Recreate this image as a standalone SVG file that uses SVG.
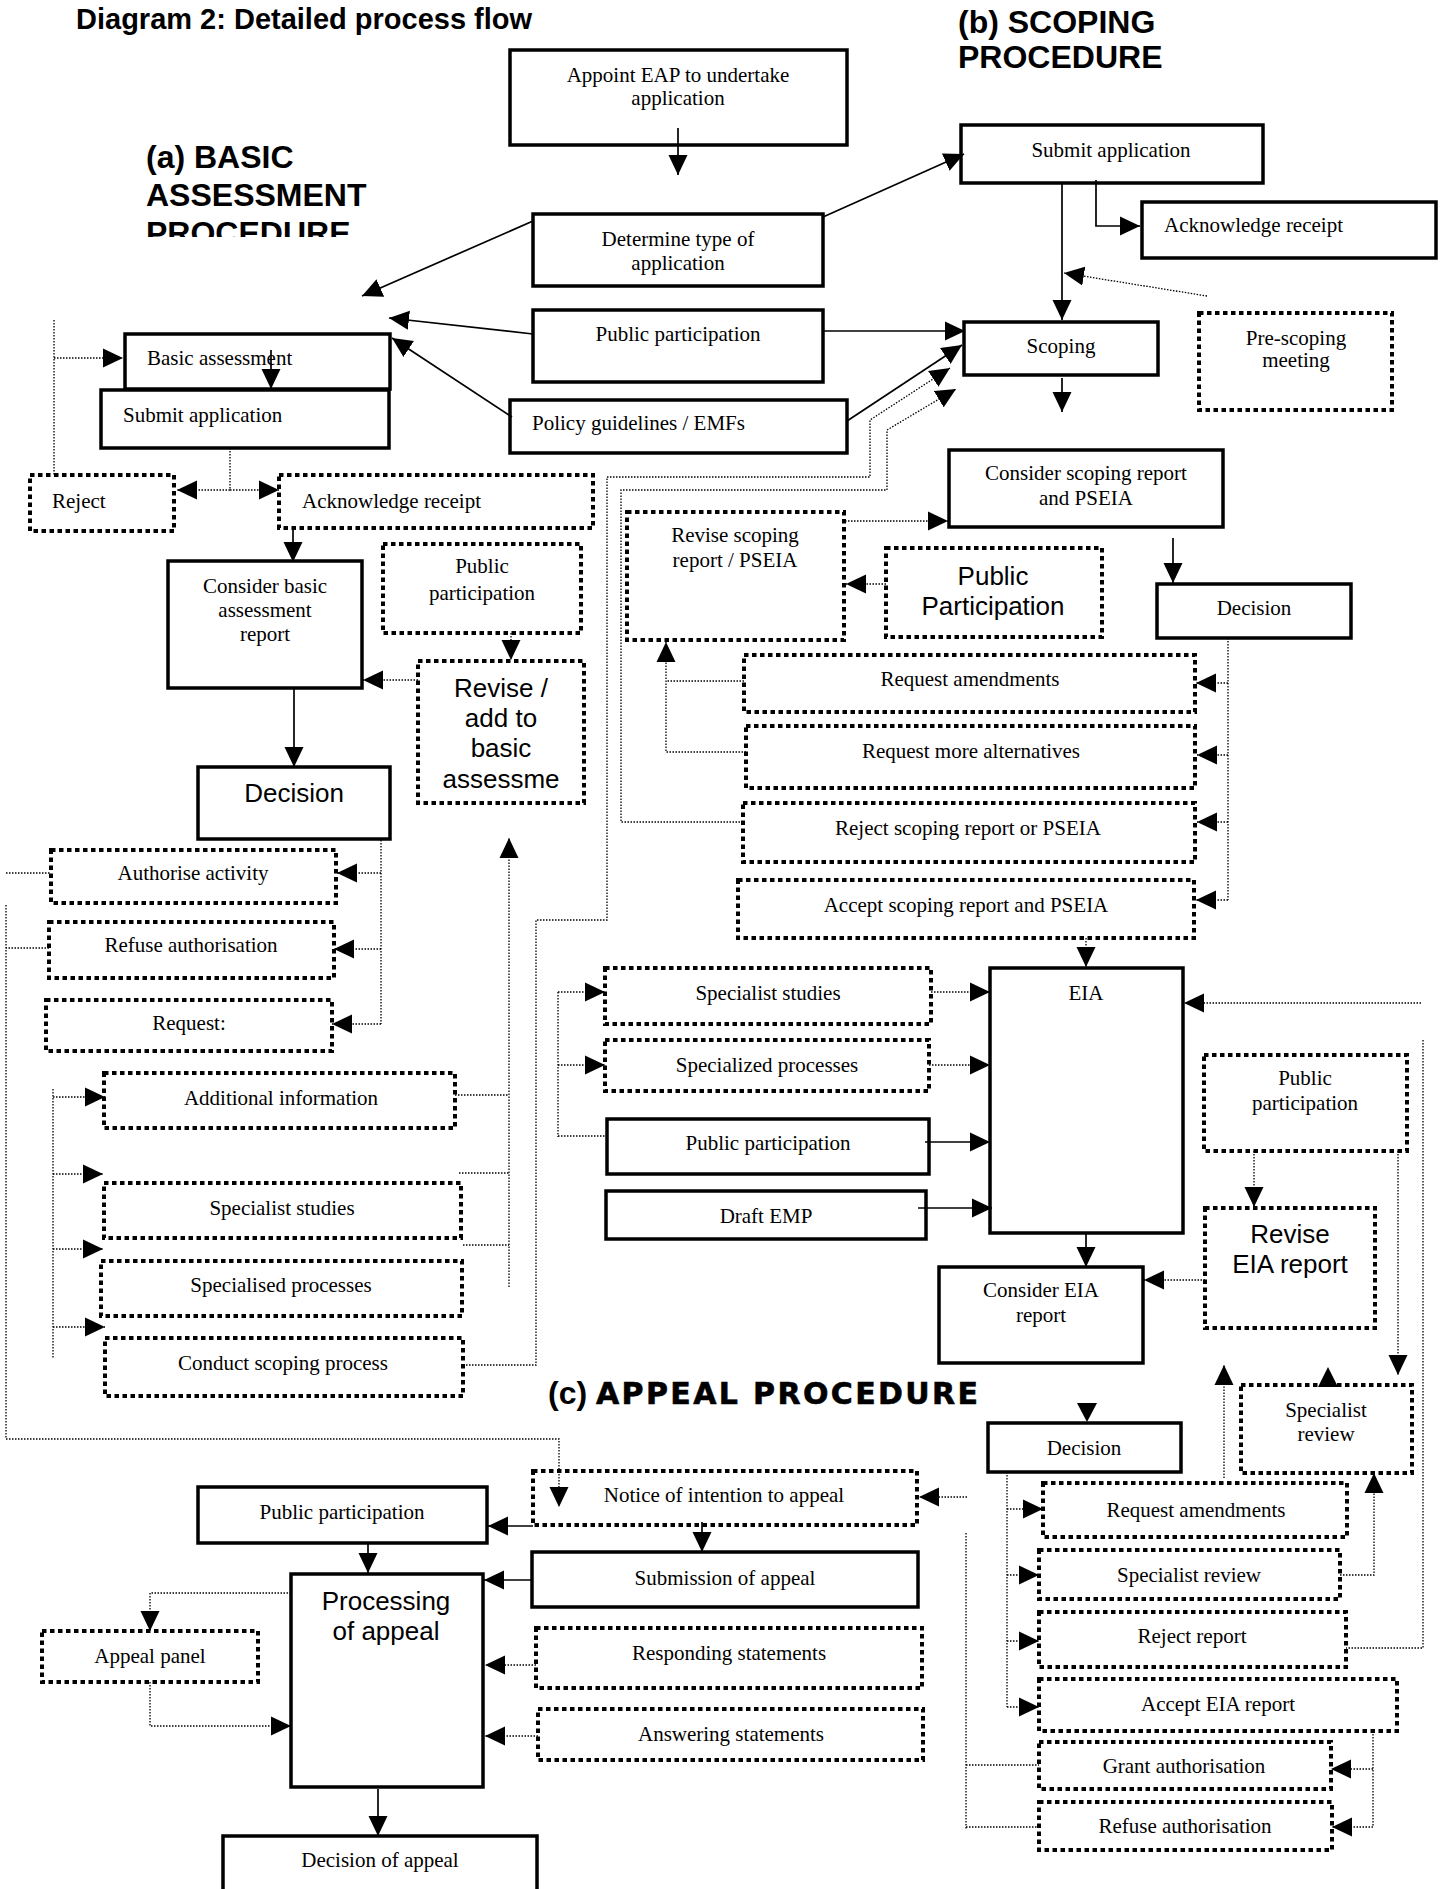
<svg xmlns="http://www.w3.org/2000/svg" width="1440" height="1889" viewBox="0 0 1440 1889">
<defs>
<style>
.sb{fill:#fff;stroke:#000;stroke-width:3.5}
.db{fill:#fff;stroke:#000;stroke-width:4;stroke-dasharray:4.5 3.5}
.t{font-family:"Liberation Serif","Times New Roman",serif;font-size:21px;fill:#000}
.c{text-anchor:middle}
.a{font-family:"Liberation Sans",Arial,sans-serif;font-size:26px;fill:#000}
.h{font-family:"Liberation Sans",Arial,sans-serif;font-weight:bold;fill:#000}
.hw{font-family:"DejaVu Sans","Liberation Sans",sans-serif;font-weight:bold;fill:#000;stroke:#000;stroke-width:0.6}
.s{fill:none;stroke:#000;stroke-width:1.7}
.d{fill:none;stroke:#000;stroke-width:1.3;stroke-dasharray:1.5 1.5}
.m{marker-end:url(#ah)}
</style>
<marker id="ah" markerUnits="userSpaceOnUse" markerWidth="20" markerHeight="20" viewBox="0 0 20 20" refX="20" refY="10" orient="auto"><path d="M0,0.5 L20,10 L0,19.5 Z" fill="#000"/></marker>
<clipPath id="clipA"><rect x="0" y="0" width="520" height="237"/></clipPath>
</defs>
<rect x="0" y="0" width="1440" height="1889" fill="#fff"/>

<g id="headings">
<text class="h" x="76" y="29" font-size="29">Diagram 2: Detailed process flow</text>
<g clip-path="url(#clipA)">
<text class="h" x="146" y="168" font-size="32">(a) BASIC</text>
<text class="h" x="146" y="206" font-size="32">ASSESSMENT</text>
<text class="h" x="146" y="244" font-size="32">PROCEDURE</text>
</g>
<text class="h" x="958" y="33" font-size="32">(b) SCOPING</text>
<text class="h" x="958" y="68" font-size="32">PROCEDURE</text>
<text class="h" x="548" y="1404" font-size="32">(c)</text>
<text class="hw" x="596" y="1404" font-size="30" textLength="382" lengthAdjust="spacing">APPEAL PROCEDURE</text>
</g>

<g id="n-appoint"><rect class="sb" x="510" y="50" width="337" height="95"/><text class="t c" x="678" y="82">Appoint EAP to undertake</text><text class="t c" x="678" y="105">application</text></g>
<g id="n-determine"><rect class="sb" x="533" y="214" width="290" height="72"/><text class="t c" x="678" y="246">Determine type of</text><text class="t c" x="678" y="270">application</text></g>
<g id="n-pp-top"><rect class="sb" x="533" y="310" width="290" height="72"/><text class="t c" x="678" y="341">Public participation</text></g>
<g id="n-policy"><rect class="sb" x="510" y="400" width="337" height="53"/><text class="t" x="532" y="430">Policy guidelines / EMFs</text></g>

<g id="n-basic"><rect class="sb" x="125" y="334" width="265" height="55"/><text class="t" x="147" y="365">Basic assessment</text></g>
<g id="n-submit-a"><rect class="sb" x="101" y="390" width="288" height="58"/><text class="t" x="123" y="422">Submit application</text></g>
<g id="n-reject-a"><rect class="db" x="30" y="475" width="144" height="56"/><text class="t" x="52" y="508">Reject</text></g>
<g id="n-ack-a"><rect class="db" x="279" y="475" width="314" height="53"/><text class="t" x="302" y="508">Acknowledge receipt</text></g>
<g id="n-consider-ba"><rect class="sb" x="168" y="561" width="194" height="127"/><text class="t c" x="265" y="593">Consider basic</text><text class="t c" x="265" y="617">assessment</text><text class="t c" x="265" y="641">report</text></g>
<g id="n-pp-a"><rect class="db" x="383" y="544" width="198" height="89"/><text class="t c" x="482" y="573">Public</text><text class="t c" x="482" y="600">participation</text></g>
<g id="n-revise-a"><rect class="db" x="418" y="661" width="166" height="142"/><text class="a c" x="501" y="697">Revise /</text><text class="a c" x="501" y="727">add to</text><text class="a c" x="501" y="757">basic</text><text class="a c" x="501" y="788">assessme</text></g>
<g id="n-decision-a"><rect class="sb" x="198" y="767" width="192" height="72"/><text class="a c" x="294" y="802">Decision</text></g>
<g id="n-authorise"><rect class="db" x="51" y="850" width="285" height="53"/><text class="t c" x="193" y="880">Authorise activity</text></g>
<g id="n-refuse-a"><rect class="db" x="49" y="922" width="285" height="56"/><text class="t c" x="191" y="952">Refuse authorisation</text></g>
<g id="n-request"><rect class="db" x="46" y="1000" width="286" height="51"/><text class="t c" x="189" y="1030">Request:</text></g>
<g id="n-addinfo"><rect class="db" x="104" y="1073" width="351" height="55"/><text class="t c" x="281" y="1105">Additional information</text></g>
<g id="n-specstud-a"><rect class="db" x="104" y="1183" width="357" height="55"/><text class="t c" x="282" y="1215">Specialist studies</text></g>
<g id="n-specproc-a"><rect class="db" x="101" y="1261" width="361" height="55"/><text class="t c" x="281" y="1292">Specialised processes</text></g>
<g id="n-conduct"><rect class="db" x="105" y="1338" width="358" height="58"/><text class="t c" x="283" y="1370">Conduct scoping process</text></g>

<g id="n-submit-b"><rect class="sb" x="961" y="125" width="302" height="58"/><text class="t c" x="1111" y="157">Submit application</text></g>
<g id="n-ack-b"><rect class="sb" x="1142" y="202" width="294" height="56"/><text class="t" x="1164" y="232">Acknowledge receipt</text></g>
<g id="n-scoping"><rect class="sb" x="964" y="322" width="194" height="53"/><text class="t c" x="1061" y="353">Scoping</text></g>
<g id="n-prescoping"><rect class="db" x="1199" y="313" width="193" height="97"/><text class="t c" x="1296" y="345">Pre-scoping</text><text class="t c" x="1296" y="367">meeting</text></g>
<g id="n-consider-sr"><rect class="sb" x="949" y="450" width="274" height="77"/><text class="t c" x="1086" y="480">Consider scoping report</text><text class="t c" x="1086" y="505">and PSEIA</text></g>
<g id="n-decision-b"><rect class="sb" x="1157" y="584" width="194" height="54"/><text class="t c" x="1254" y="615">Decision</text></g>
<g id="n-revise-sr"><rect class="db" x="627" y="512" width="217" height="128"/><text class="t c" x="735" y="542">Revise scoping</text><text class="t c" x="735" y="567">report / PSEIA</text></g>
<g id="n-pp-b"><rect class="db" x="886" y="548" width="216" height="89"/><text class="a c" x="993" y="585">Public</text><text class="a c" x="993" y="615">Participation</text></g>
<g id="n-req-amend-b"><rect class="db" x="744" y="655" width="451" height="57"/><text class="t c" x="970" y="686">Request amendments</text></g>
<g id="n-req-alt"><rect class="db" x="746" y="726" width="449" height="62"/><text class="t c" x="971" y="758">Request more alternatives</text></g>
<g id="n-reject-sr"><rect class="db" x="743" y="803" width="452" height="59"/><text class="t c" x="968" y="835">Reject scoping report or PSEIA</text></g>
<g id="n-accept-sr"><rect class="db" x="738" y="880" width="456" height="58"/><text class="t c" x="966" y="912">Accept scoping report and PSEIA</text></g>

<g id="n-eia"><rect class="sb" x="990" y="968" width="193" height="265"/><text class="t c" x="1086" y="1000">EIA</text></g>
<g id="n-specstud-b"><rect class="db" x="605" y="968" width="326" height="56"/><text class="t c" x="768" y="1000">Specialist studies</text></g>
<g id="n-specproc-b"><rect class="db" x="605" y="1040" width="324" height="51"/><text class="t c" x="767" y="1072">Specialized processes</text></g>
<g id="n-pp-eia"><rect class="sb" x="607" y="1119" width="322" height="55"/><text class="t c" x="768" y="1150">Public participation</text></g>
<g id="n-emp"><rect class="sb" x="606" y="1191" width="320" height="48"/><text class="t c" x="766" y="1223">Draft EMP</text></g>
<g id="n-consider-eia"><rect class="sb" x="939" y="1267" width="204" height="96"/><text class="t c" x="1041" y="1297">Consider EIA</text><text class="t c" x="1041" y="1322">report</text></g>
<g id="n-pp-eia-r"><rect class="db" x="1204" y="1055" width="203" height="96"/><text class="t c" x="1305" y="1085">Public</text><text class="t c" x="1305" y="1110">participation</text></g>
<g id="n-revise-eia"><rect class="db" x="1205" y="1208" width="170" height="120"/><text class="a c" x="1290" y="1243">Revise</text><text class="a c" x="1290" y="1273">EIA report</text></g>
<g id="n-specrev-top"><rect class="db" x="1241" y="1385" width="171" height="88"/><text class="t c" x="1326" y="1417">Specialist</text><text class="t c" x="1326" y="1441">review</text></g>

<g id="n-decision-c"><rect class="sb" x="988" y="1423" width="193" height="49"/><text class="t c" x="1084" y="1455">Decision</text></g>
<g id="n-req-amend-c"><rect class="db" x="1043" y="1483" width="304" height="54"/><text class="t c" x="1196" y="1517" font-size="22">Request amendments</text></g>
<g id="n-specrev-c"><rect class="db" x="1039" y="1550" width="301" height="49"/><text class="t c" x="1189" y="1582">Specialist review</text></g>
<g id="n-reject-report"><rect class="db" x="1039" y="1612" width="307" height="55"/><text class="t c" x="1192" y="1643">Reject report</text></g>
<g id="n-accept-eia"><rect class="db" x="1039" y="1679" width="358" height="52"/><text class="t c" x="1218" y="1711">Accept EIA report</text></g>
<g id="n-grant"><rect class="db" x="1039" y="1742" width="292" height="47"/><text class="t c" x="1184" y="1773">Grant authorisation</text></g>
<g id="n-refuse-c"><rect class="db" x="1039" y="1802" width="293" height="48"/><text class="t c" x="1185" y="1833">Refuse authorisation</text></g>

<g id="n-notice"><rect class="db" x="533" y="1471" width="384" height="54"/><text class="t c" x="724" y="1502">Notice of intention to appeal</text></g>
<g id="n-pp-c"><rect class="sb" x="198" y="1487" width="289" height="56"/><text class="t c" x="342" y="1519">Public participation</text></g>
<g id="n-submission"><rect class="sb" x="532" y="1552" width="386" height="55"/><text class="t c" x="725" y="1585">Submission of appeal</text></g>
<g id="n-processing"><rect class="sb" x="291" y="1574" width="192" height="213"/><text class="a c" x="386" y="1610">Processing</text><text class="a c" x="386" y="1640">of appeal</text></g>
<g id="n-responding"><rect class="db" x="536" y="1628" width="386" height="60"/><text class="t c" x="729" y="1660">Responding statements</text></g>
<g id="n-answering"><rect class="db" x="538" y="1709" width="385" height="51"/><text class="t c" x="731" y="1741">Answering statements</text></g>
<g id="n-appeal-panel"><rect class="db" x="42" y="1631" width="216" height="51"/><text class="t c" x="150" y="1663">Appeal panel</text></g>
<g id="n-decision-appeal"><rect class="sb" x="223" y="1836" width="314" height="70"/><text class="t c" x="380" y="1867">Decision of appeal</text></g>

<g id="connectors">
<path class="s m" d="M678,128 L678,175"/>
<path class="s m" d="M533,221 L362,296"/>
<path class="s m" d="M533,334 L389,318"/>
<path class="s m" d="M512,417 L392,338"/>
<path class="s m" d="M823,217 L964,154"/>
<path class="s m" d="M823,331 L965,331"/>
<path class="s m" d="M847,421 L962,345"/>
<path class="s m" d="M271,350 L271,389"/>
<path class="s m" d="M1062,183 L1062,320"/>
<path class="s m" d="M1096,180 L1096,226 L1140,226"/>
<path class="s m" d="M1062,378 L1062,412"/>
<path class="s m" d="M1173,538 L1173,583"/>
<path class="s m" d="M293,528 L293,562"/>
<path class="s m" d="M294,688 L294,767"/>
<path class="s m" d="M925,1142 L990,1142"/>
<path class="s m" d="M918,1208 L992,1208"/>
<path class="s m" d="M1086,1233 L1086,1267"/>
<path class="s m" d="M702,1522 L702,1552"/>
<path class="s m" d="M533,1526 L488,1526"/>
<path class="s m" d="M368,1543 L368,1573"/>
<path class="s m" d="M532,1580 L484,1580"/>
<path class="s m" d="M378,1789 L378,1836"/>
<polygon points="1077,1403 1097,1403 1087,1422" fill="#000"/>
<polygon points="1318,1387 1338,1387 1328,1367" fill="#000"/>
<path class="d" d="M54,320 L54,475"/>
<path class="d m" d="M54,358 L123,358"/>
<path class="d" d="M230,448 L230,490"/>
<path class="d m" d="M230,490 L177,490"/>
<path class="d m" d="M230,490 L279,490"/>
<path class="d m" d="M511,633 L511,660"/>
<path class="d m" d="M418,680 L363,680"/>
<path class="d" d="M381,840 L381,1024"/>
<path class="d m" d="M381,873 L337,873"/>
<path class="d m" d="M381,949 L334,949"/>
<path class="d m" d="M381,1024 L332,1024"/>
<path class="d" d="M6,873 L51,873"/>
<path class="d" d="M49,948 L6,948"/>
<path class="d m" d="M6,905 L6,1439 L559,1439 L559,1507"/>
<path class="d" d="M53,1089 L53,1358"/>
<path class="d m" d="M53,1097 L105,1097"/>
<path class="d m" d="M53,1174 L103,1174"/>
<path class="d m" d="M53,1249 L103,1249"/>
<path class="d m" d="M53,1327 L105,1327"/>
<path class="d m" d="M509,1287 L509,838"/>
<path class="d" d="M455,1095 L509,1095"/>
<path class="d" d="M459,1173 L509,1173"/>
<path class="d" d="M463,1245 L509,1245"/>
<path class="d m" d="M463,1365 L536,1365 L536,920 L607,920 L607,477 L870,477 L870,420 L950,368"/>
<path class="d m" d="M743,822 L621,822 L621,490 L887,490 L887,430 L956,389"/>
<path class="d" d="M744,681 L666,681"/>
<path class="d m" d="M746,752 L666,752 L666,642"/>
<path class="d m" d="M845,521 L948,521"/>
<path class="d m" d="M886,584 L846,584"/>
<path class="d" d="M1228,638 L1228,900"/>
<path class="d m" d="M1228,683 L1196,683"/>
<path class="d m" d="M1228,755 L1197,755"/>
<path class="d m" d="M1228,822 L1197,822"/>
<path class="d m" d="M1228,900 L1196,900"/>
<path class="d m" d="M1207,296 L1064,273"/>
<path class="d m" d="M1086,938 L1086,967"/>
<path class="d" d="M558,992 L558,1137"/>
<path class="d m" d="M558,992 L605,992"/>
<path class="d m" d="M558,1065 L605,1065"/>
<path class="d" d="M558,1136 L607,1136"/>
<path class="d m" d="M931,992 L990,992"/>
<path class="d m" d="M929,1065 L990,1065"/>
<path class="d m" d="M1421,1003 L1184,1003"/>
<path class="d" d="M1423,1040 L1423,1648 L1346,1648"/>
<path class="d m" d="M1254,1151 L1254,1207"/>
<path class="d m" d="M1205,1280 L1144,1280"/>
<path class="d m" d="M1398,1151 L1398,1375"/>
<path class="d m" d="M1224,1478 L1224,1365"/>
<path class="d m" d="M1340,1575 L1374,1575 L1374,1473"/>
<path class="d" d="M1007,1472 L1007,1707"/>
<path class="d m" d="M1007,1509 L1043,1509"/>
<path class="d m" d="M1007,1575 L1039,1575"/>
<path class="d m" d="M1007,1641 L1039,1641"/>
<path class="d m" d="M1007,1707 L1039,1707"/>
<path class="d" d="M1373,1731 L1373,1827"/>
<path class="d m" d="M1373,1769 L1331,1769"/>
<path class="d m" d="M1373,1827 L1332,1827"/>
<path class="d" d="M966,1533 L966,1830"/>
<path class="d" d="M966,1765 L1039,1765"/>
<path class="d" d="M966,1827 L1039,1827"/>
<path class="d m" d="M967,1497 L919,1497"/>
<path class="d m" d="M536,1665 L485,1665"/>
<path class="d m" d="M538,1736 L485,1736"/>
<path class="d m" d="M291,1593 L150,1593 L150,1631"/>
<path class="d m" d="M150,1682 L150,1726 L291,1726"/>
</g>
</svg>
